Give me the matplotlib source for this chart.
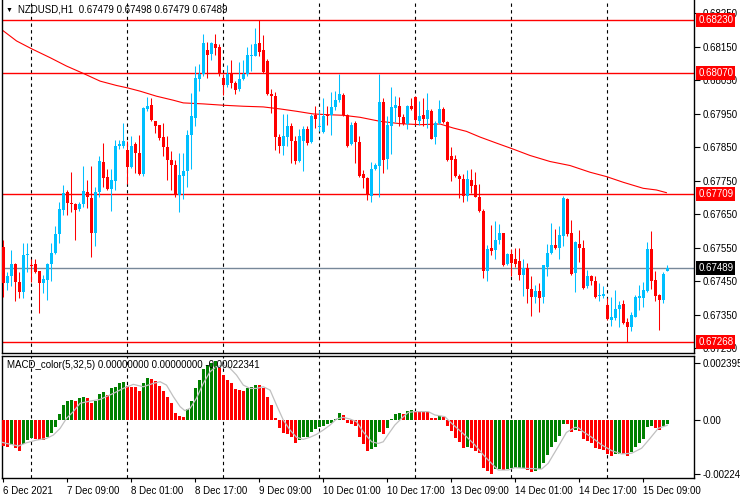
import matplotlib.pyplot as plt
import numpy as np

plt.rcParams['font.family'] = ['Liberation Sans', 'DejaVu Sans']

# NZDUSD H1 candles, bar 0 = 6 Dec 17:00
opens = [
    .67552, .67444, .67464, .67502, .67447, .67417, .67527, .67499, .67502, .67479,
    .67444, .67454, .67502, .67535, .67590, .67662, .67717, .67684, .67680, .67664,
    .67679, .67716, .67699, .67594, .67715, .67805, .67760, .67725, .67750, .67852,
    .67854, .67842, .67792, .67860, .67832, .67769, .67965, .67975, .67929, .67915,
    .67879, .67850, .67812, .67797, .67707, .67765, .67779, .67885, .67937, .68054,
    .68067, .68139, .68127, .68159, .68150, .68057, .68035, .68069, .68042, .68022,
    .68052, .68069, .68122, .68122, .68160, .68139, .68107, .68010, .68004, .67879,
    .67852, .67879, .67912, .67869, .67809, .67867, .67905, .67864, .67947, .67910,
    .67895, .67947, .67945, .67970, .67990, .68007, .67947, .67859, .67922, .67865,
    .67769, .67759, .67705, .67784, .67795, .67984, .67815, .67912, .67967, .67974,
    .67939, .67920, .67972, .67999, .67929, .67947, .67935, .67959, .67879, .67922,
    .67965, .67925, .67824, .67815, .67765, .67754, .67705, .67752, .67737, .67702,
    .67659, .67480, .67549, .67542, .67572, .67594, .67500, .67532, .67515, .67509,
    .67467, .67490, .67427, .67402, .67419, .67402, .67492, .67535, .67559, .67549,
    .67585, .67695, .67595, .67474, .67562, .67549, .67434, .67465, .67450, .67405,
    .67404, .67380, .67335, .67340, .67367, .67382, .67327, .67314, .67344, .67400,
    .67400, .67420, .67545, .67454, .67409, .67394, .67479]
highs = [
    .67572, .67477, .67544, .67505, .67477, .67565, .67565, .67517, .67517, .67479,
    .67467, .67505, .67565, .67614, .67687, .67737, .67722, .67777, .67682, .67687,
    .67795, .67752, .67795, .67730, .67824, .67862, .67784, .67784, .67872, .67872,
    .67922, .67867, .67884, .67864, .67887, .67970, .68000, .67997, .67929, .67917,
    .67922, .67882, .67837, .67812, .67832, .67832, .67900, .68012, .68092, .68097,
    .68187, .68165, .68165, .68187, .68157, .68067, .68094, .68109, .68047, .68105,
    .68109, .68149, .68157, .68207, .68230, .68184, .68112, .68022, .68014, .67889,
    .67949, .67949, .67922, .67882, .67904, .67912, .67912, .67949, .67974, .67962,
    .67997, .67972, .68014, .68017, .68069, .68012, .67950, .67924, .67927, .67884,
    .67782, .67762, .67807, .67804, .68067, .67997, .67944, .68029, .68004, .68000,
    .67949, .67977, .67997, .68002, .67987, .67997, .68012, .67964, .67929, .67990,
    .67969, .67927, .67850, .67827, .67769, .67770, .67782, .67785, .67775, .67740,
    .67665, .67559, .67617, .67630, .67619, .67595, .67534, .67547, .67549, .67550,
    .67517, .67505, .67464, .67437, .67444, .67497, .67562, .67622, .67607, .67615,
    .67705, .67697, .67632, .67570, .67602, .67572, .67484, .67467, .67464, .67444,
    .67434, .67400, .67402, .67422, .67390, .67394, .67340, .67359, .67409, .67439,
    .67447, .67567, .67600, .67479, .67410, .67477, .67498]
lows = [
    .67402, .67424, .67434, .67390, .67400, .67400, .67477, .67447, .67474, .67354,
    .67414, .67394, .67450, .67532, .67565, .67647, .67647, .67657, .67572, .67659,
    .67672, .67667, .67522, .67554, .67702, .67732, .67722, .67659, .67722, .67845,
    .67847, .67739, .67787, .67772, .67767, .67764, .67957, .67927, .67892, .67872,
    .67822, .67752, .67722, .67702, .67657, .67695, .67732, .67785, .67912, .68017,
    .68062, .68057, .68109, .68125, .68062, .68005, .68029, .68025, .68009, .68017,
    .68050, .68062, .68077, .68122, .68122, .68072, .68007, .67952, .67840, .67832,
    .67827, .67852, .67802, .67800, .67807, .67779, .67857, .67862, .67907, .67897,
    .67892, .67917, .67887, .67962, .67984, .67944, .67850, .67857, .67804, .67762,
    .67729, .67692, .67687, .67782, .67702, .67772, .67785, .67830, .67924, .67912,
    .67917, .67904, .67962, .67917, .67915, .67912, .67907, .67874, .67860, .67920,
    .67922, .67810, .67749, .67762, .67699, .67687, .67690, .67712, .67700, .67655,
    .67459, .67450, .67527, .67517, .67562, .67495, .67497, .67465, .67492, .67452,
    .67404, .67384, .67345, .67384, .67357, .67384, .67464, .67530, .67547, .67515,
    .67555, .67585, .67467, .67417, .67507, .67427, .67430, .67439, .67400, .67390,
    .67400, .67335, .67317, .67335, .67312, .67322, .67268, .67300, .67342, .67364,
    .67374, .67417, .67425, .67392, .67305, .67384, .67479]
closes = [
    .67444, .67464, .67502, .67447, .67417, .67529, .67532, .67495, .67477, .67444,
    .67455, .67502, .67535, .67590, .67664, .67712, .67684, .67679, .67662, .67679,
    .67719, .67700, .67594, .67715, .67809, .67757, .67725, .67752, .67854, .67859,
    .67869, .67792, .67854, .67832, .67769, .67967, .67972, .67930, .67912, .67877,
    .67849, .67812, .67797, .67707, .67767, .67779, .67885, .67942, .68057, .68069,
    .68162, .68125, .68160, .68147, .68069, .68034, .68069, .68042, .68020, .68054,
    .68069, .68124, .68125, .68157, .68134, .68075, .68010, .68002, .67879, .67854,
    .67884, .67912, .67869, .67809, .67884, .67905, .67862, .67942, .67935, .67912,
    .67942, .67942, .67970, .67990, .68009, .67947, .67854, .67917, .67865, .67765,
    .67757, .67707, .67784, .67797, .67985, .67812, .67917, .67969, .67975, .67939,
    .67919, .67972, .67964, .67932, .67944, .67934, .67960, .67875, .67922, .67965,
    .67924, .67812, .67812, .67765, .67754, .67705, .67755, .67735, .67702, .67659,
    .67480, .67545, .67540, .67574, .67594, .67499, .67530, .67505, .67500, .67467,
    .67490, .67425, .67402, .67419, .67399, .67497, .67535, .67559, .67549, .67587,
    .67697, .67590, .67472, .67567, .67549, .67430, .67464, .67450, .67402, .67409,
    .67412, .67337, .67344, .67367, .67380, .67324, .67312, .67350, .67402, .67405,
    .67422, .67545, .67450, .67405, .67395, .67472, .67489]

# moving average (red line), read at these bar positions
ma_x = [0, 3.3, 7, 11.7, 15.8, 20, 24.2, 28.3, 31, 34.2,
        38.3, 42.5, 45, 50, 55, 60, 65, 69.2, 73.3, 77.5,
        80.8, 85, 89.2, 94.2, 99.2, 104.2, 109.2, 112.5, 115.8, 119.2,
        123.3, 127.5, 131.7, 136.7, 141.7, 146.7, 150.8, 155, 160, 163.3, 165.8]
ma_v = [.68197, .68167, .68144, .68117, .68092, .68070, .68047, .68034, .68027, .68017,
        .68002, .67990, .67982, .67979, .67975, .67972, .67970, .67964, .67957, .67949,
        .67947, .67945, .67939, .67927, .67920, .67917, .67919, .67907, .67897, .67880,
        .67862, .67844, .67825, .67807, .67795, .67775, .67762, .67745, .67727, .67722, .67714]

red_levels = [0.68230, 0.68070, 0.67709, 0.67268]
last_price = 0.67489

# MACD histogram, units of 1e-4
hist = [
    -10.9, -11.4, -10.4, -11.8, -12.8, -10.0, -8.4, -7.7, -8.1, -8.4,
    -8.4, -7.2, -5.6, -3.1, 2.5, 6.3, 7.9, 8.2, 7.9, 9.1,
    9.5, 9.4, 7.2, 7.9, 10.7, 11.6, 10.4, 13.2, 13.9, 15.3,
    16.0, 14.3, 13.9, 13.8, 12.3, 15.3, 17.4, 17.3, 16.4, 14.3,
    12.3, 9.5, 7.0, 3.1, 1.7, 1.4, 4.6, 7.9, 13.2, 16.7,
    21.2, 23.0, 24.0, 24.8, 21.6, 18.8, 16.7, 15.3, 12.8, 12.5,
    12.3, 13.2, 13.9, 14.6, 14.5, 13.2, 9.5, 6.3, 0.7, -3.5,
    -5.6, -5.7, -7.0, -9.5, -8.4, -7.2, -7.0, -4.9, -3.9, -3.1,
    -2.5, -1.7, -1.1, 0.4, 3.1, 2.1, -1.4, -1.7, -2.5, -7.2,
    -10.0, -12.8, -12.3, -11.1, -4.9, -5.9, -3.2, 0.6, 2.5, 3.1,
    2.5, 3.9, 4.2, 3.2, 3.2, 3.2, 3.2, 0.8, 0.8, 1.7,
    1.1, -2.4, -4.5, -7.4, -9.1, -11.6, -11.2, -11.8, -12.8, -13.9,
    -20.2, -21.3, -22.6, -20.5, -20.3, -20.9, -20.5, -20.2, -20.1, -20.0,
    -19.9, -20.9, -21.6, -21.3, -20.5, -17.8, -14.6, -11.1, -9.1, -6.5,
    -1.7, -1.8, -4.9, -4.2, -4.5, -7.9, -8.8, -9.8, -11.8, -12.1,
    -12.5, -14.3, -15.0, -14.3, -14.2, -14.3, -15.0, -13.5, -11.1, -9.5,
    -7.9, -2.9, -2.4, -3.5, -4.2, -2.4, -1.8]
sig_x = [-0.8, 0.8, 2.5, 3.75, 5.8, 8.3, 10.8, 12.5, 14.2, 15.8,
         17.5, 19.2, 21.7, 24.2, 27.5, 30, 32.5, 35, 37.5, 39.2,
         40.8, 42.5, 44.2, 45.4, 46.7, 48.3, 50, 51.7, 53.3, 55,
         56.7, 58.3, 60, 61.7, 63.3, 65, 66.7, 68.3, 70, 71.7,
         73.3, 75, 76.7, 78.3, 80, 81.7, 83.3, 85, 86.7, 88.3,
         90, 92.1, 93.75, 95, 96.25, 97.9, 99.6, 101.25, 102.9, 106.25,
         107.9, 110.4, 112.1, 115.4, 117.9, 120.4, 122.9, 123.75, 126.25, 127.9,
         130.4, 134.6, 136.25, 138.75, 140.8, 142.9, 143.75, 145, 147.1, 149.6,
         152.1, 154.6, 157.1, 159.6, 161.7, 163.75, 166]
sig_v = [-9.1, -9.8, -10.4, -10.9, -9.5, -8.4, -7.7, -6.3, -3.5, 0.7,
         3.5, 7.0, 7.9, 8.6, 11.1, 13.2, 14.9, 13.9, 15.3, 16.0,
         14.6, 9.8, 5.6, 3.9, 4.9, 9.1, 15.3, 20.2, 22.3, 23.0,
         21.6, 18.8, 14.6, 13.2, 13.2, 13.9, 12.5, 6.3, 0.0, -4.2,
         -7.2, -8.1, -7.2, -6.0, -4.2, -2.1, 0.4, 1.1, 0.4, -0.7,
         -5.0, -9.1, -9.8, -9.1, -6.0, -2.1, 0.7, 3.2, 3.5, 3.5,
         2.1, 1.4, -1.4, -6.3, -10.4, -15.3, -19.5, -20.9, -20.9, -19.9,
         -20.2, -20.5, -18.1, -11.1, -5.2, -3.1, -3.2, -4.9, -7.2, -10.4,
         -12.8, -14.2, -13.9, -11.8, -7.7, -3.5, -2.2]

date_labels = ['6 Dec 2021', '7 Dec 09:00', '8 Dec 01:00', '8 Dec 17:00', '9 Dec 09:00',
               '10 Dec 01:00', '10 Dec 17:00', '13 Dec 09:00', '14 Dec 01:00',
               '14 Dec 17:00', '15 Dec 09:00']

o = np.array(opens); h = np.array(highs); l = np.array(lows); c = np.array(closes)
xs = np.arange(len(c))
BLUE, RED, GREEN = '#00BFFF', '#FF0000', '#008000'

W, H = 740, 500
def box(x0, y0, x1, y1):
    return [x0 / W, 1 - y1 / H, (x1 - x0) / W, (y1 - y0) / H]

fig = plt.figure(figsize=(7.4, 5.0), dpi=100, facecolor='white')
ax = fig.add_axes(box(2, 0, 694, 353))
ax2 = fig.add_axes(box(2, 356, 694, 478))

# candles
cc = np.where(c >= o, BLUE, RED)
ax.vlines(xs, l, h, colors=cc, lw=0.75, zorder=3)
ax.bar(xs, np.maximum(np.abs(c - o), 0.00002), bottom=np.minimum(o, c), width=0.72,
       color=cc, linewidth=0, zorder=3)
ax.plot(ma_x, ma_v, color=RED, lw=0.8, zorder=2)

for v in red_levels:
    ax.axhline(v, color=RED, lw=1.0, zorder=2)
ax.axhline(last_price, color='#778899', lw=1.0, zorder=2)

for a in (ax, ax2):
    for k in range(7, len(c), 24):
        a.axvline(k, color='black', lw=0.8, ls=(0, (3, 3)), zorder=1)
    a.set_xlim(-0.33, 172.7)
    a.yaxis.tick_right()
    a.tick_params(axis='y', direction='out', length=4, width=0.8, labelsize=7, pad=2)
    for s in a.spines.values():
        s.set_linewidth(1.0)

ax.spines['top'].set_visible(False)
ax.set_ylim(0.672353, 0.682892)
ticks = np.arange(0.67250, 0.68260, 0.001)
ax.set_yticks(ticks)
ax.set_yticklabels([f'{t:.5f}' for t in ticks])
ax.set_xticks([])

for v in red_levels:
    ax.annotate(f'{v:.5f}', xy=(1, v), xycoords=('axes fraction', 'data'),
                xytext=(3, 0), textcoords='offset points', va='center', ha='left',
                fontsize=7, color='white', annotation_clip=False, zorder=6,
                bbox=dict(boxstyle='square,pad=0.2', fc=RED, ec='none'))
ax.annotate(f'{last_price:.5f}', xy=(1, last_price), xycoords=('axes fraction', 'data'),
            xytext=(3, 0), textcoords='offset points', va='center', ha='left',
            fontsize=7, color='white', annotation_clip=False, zorder=6,
            bbox=dict(boxstyle='square,pad=0.2', fc='black', ec='none'))

# MACD panel
hv = np.array(hist) * 1e-4
hcol = [RED] + [GREEN if hv[i] > hv[i - 1] else RED for i in range(1, len(hv))]
ax2.bar(xs, hv, width=0.72, color=hcol, linewidth=0, zorder=3)
ax2.plot(sig_x, np.array(sig_v) * 1e-4, color='#C0C0C0', lw=0.9, zorder=4)
ax2.set_ylim(-0.002424, 0.002675)
ax2.set_yticks([0.0023952, 0.0, -0.0022419])
ax2.set_yticklabels(['0.0023952', '0.00', '-0.0022419'])
ax2.set_xticks(xs[::16])
ax2.set_xticklabels(date_labels, ha='left')
ax2.tick_params(axis='x', length=3, width=0.8, labelsize=7, pad=3)

fig.text(6 / W, 1 - 10 / H, '▼', fontsize=5, va='center')
fig.text(18 / W, 1 - 10 / H, 'NZDUSD,H1  0.67479 0.67498 0.67479 0.67489',
         fontsize=7, va='center')
fig.text(7 / W, 1 - 365 / H, 'MACD_color(5,32,5) 0.00000000 0.00000000 -0.00022341',
         fontsize=7, va='center')

fig.savefig('out.png', dpi=100)
